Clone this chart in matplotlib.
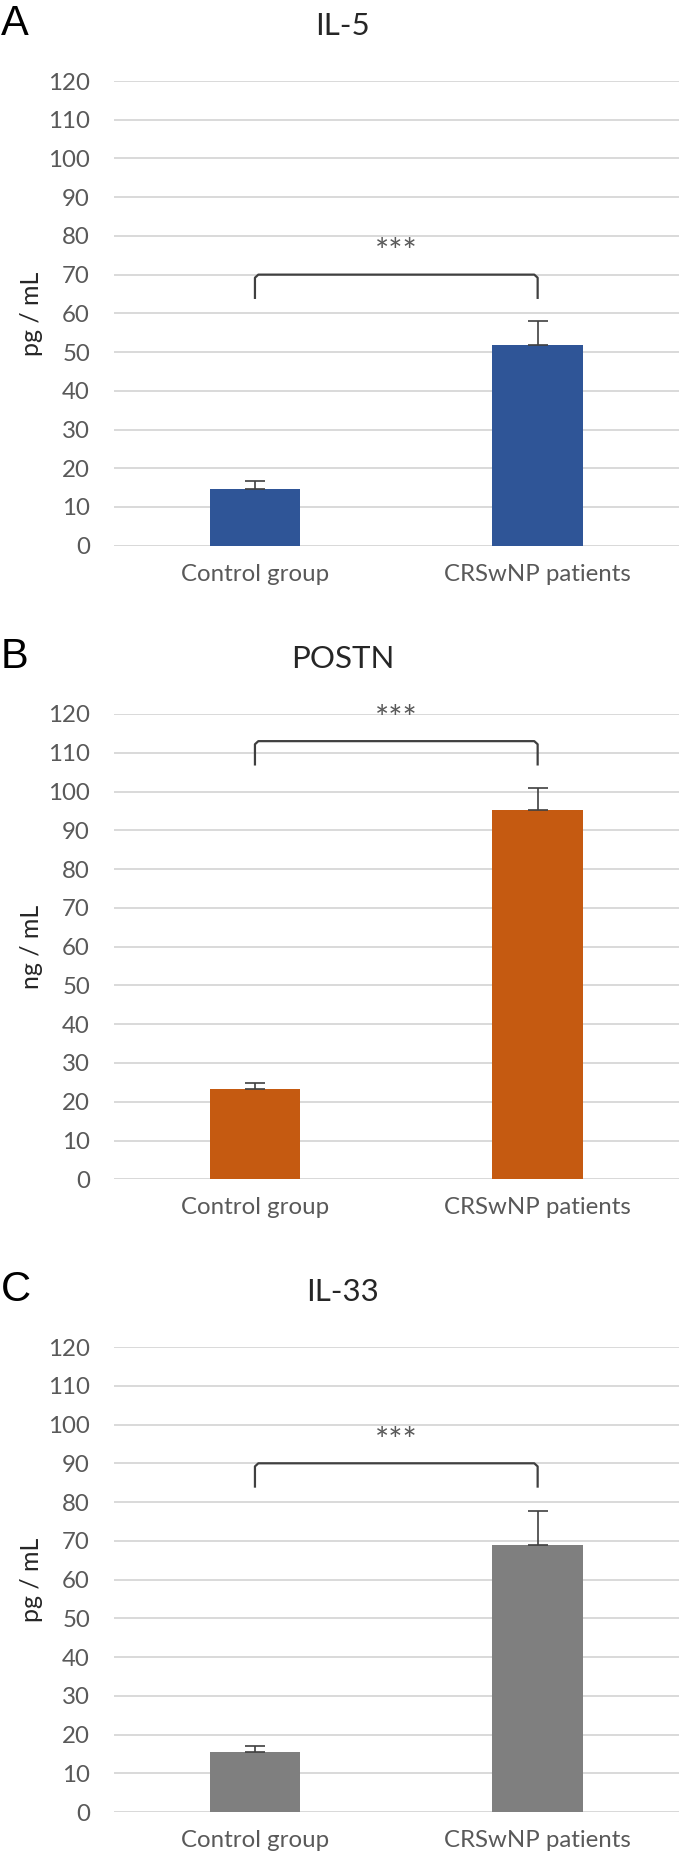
import matplotlib
matplotlib.use("Agg")
import matplotlib.pyplot as plt
import numpy as np

plt.rcParams["font.family"] = ["Lato", "DejaVu Sans"]

# data
categories = ["Control group", "CRSwNP patients"]
panel_letters = ["A", "B", "C"]
titles = ["IL-5", "POSTN", "IL-33"]
ylabels = ["pg / mL", "ng / mL", "pg / mL"]

il5_means = [14.6, 51.8]
il5_err = [2.1, 6.1]
postn_means = [23.2, 95.2]
postn_err = [1.6, 5.8]
il33_means = [15.5, 69.0]
il33_err = [1.6, 8.7]

# significance brackets: top, foot and star level (data units)
bracket_top = [70, 113, 90]
bracket_foot = [64, 107, 84]
star_level = [75.5, 118.5, 95.5]
sig_marks = ["***", "***", "***"]

yticks = list(range(0, 121, 10))

colors = ["#2F5597", "#C55A11", "#7F7F7F"]
TEXT = "#595959"
GRID = "#D9D9D9"

W, H = 685, 1862
fig = plt.figure(figsize=(W / 100, H / 100), dpi=100)

# pixel rows of the 120 and 0 gridlines for each panel
rows = [(81, 545.7), (714, 1179.3), (1347, 1812.2)]
left_px, right_px = 113.6, 679

means_all = [il5_means, postn_means, il33_means]
err_all = [il5_err, postn_err, il33_err]

for i in range(3):
    top_px, bot_px = rows[i]
    ax = fig.add_axes([left_px / W, 1 - bot_px / H,
                       (right_px - left_px) / W, (bot_px - top_px) / H])
    x = np.arange(len(categories))
    ax.bar(x, means_all[i], width=0.32, color=colors[i], zorder=3)
    ax.errorbar(x, means_all[i], yerr=[[0] * len(x), err_all[i]], fmt="none",
                ecolor="#404040", elinewidth=1.2, capsize=7, capthick=1.2, zorder=4)

    ax.set_xlim(-0.5, 1.5)
    ax.set_ylim(0, 120)
    ax.set_yticks(yticks)
    ax.set_yticklabels([str(t) for t in yticks])
    ax.set_xticks(x)
    ax.set_xticklabels(categories)
    ax.tick_params(axis="y", length=0, pad=17, labelsize=17.3, labelcolor=TEXT)
    ax.tick_params(axis="x", length=0, pad=13, labelsize=17.3, labelcolor=TEXT)
    ax.grid(axis="y", color=GRID, linewidth=1.4, zorder=0)
    ax.set_axisbelow(True)
    for s in ax.spines.values():
        s.set_visible(False)
    ax.axhline(0, color=GRID, linewidth=1.4, zorder=1)

    # bracket with slightly rounded corners
    r = 0.012
    bx = [0, 0, r, 1 - r, 1, 1]
    by = [bracket_foot[i], bracket_top[i] - 0.8, bracket_top[i],
          bracket_top[i], bracket_top[i] - 0.8, bracket_foot[i]]
    ax.plot(bx, by, color="#404040", linewidth=1.6, zorder=5,
            solid_joinstyle="round", clip_on=False)
    ax.text(0.5, star_level[i], sig_marks[i], ha="center", va="center",
            fontsize=24, color=TEXT, zorder=5)

    # y label
    fig.text(32 / W, 1 - (top_px + bot_px) / 2 / H, ylabels[i], rotation=90,
             ha="center", va="center", fontsize=18, color="#262626")

    # title and panel letter
    base = 1 - (top_px - 46) / H
    fig.text(0.5, base, titles[i], ha="center", va="baseline",
             fontsize=22.5, color="#262626")
    fig.text(1 / W, base, panel_letters[i], ha="left", va="baseline",
             fontsize=30, color="black", family=["Liberation Sans", "DejaVu Sans"])

fig.savefig("out.png", dpi=100, facecolor="white")
